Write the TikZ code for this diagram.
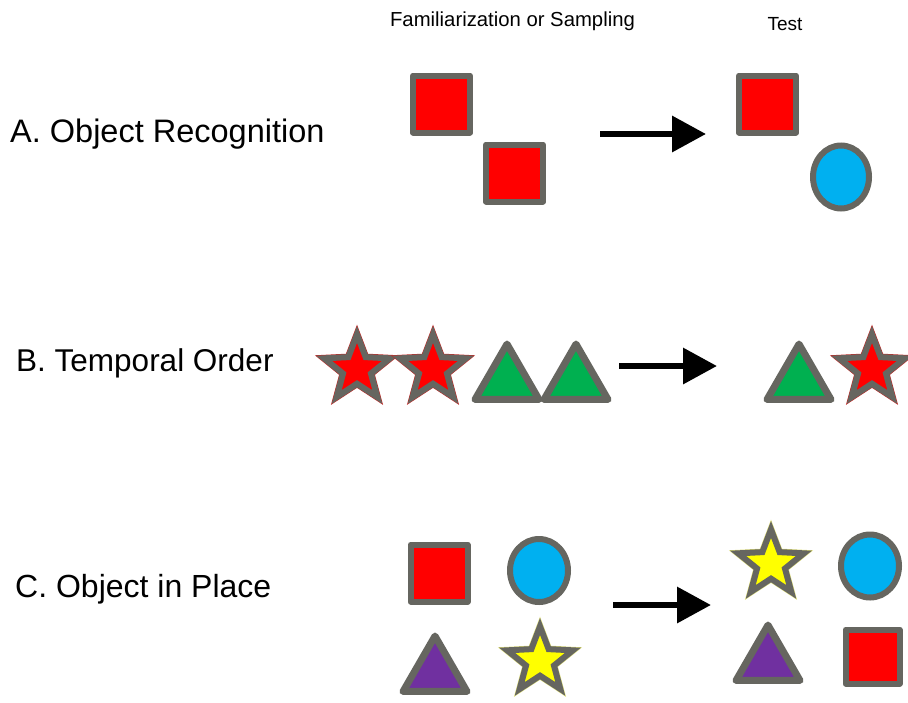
\documentclass[tikz,border=0pt]{standalone}
\usepackage{fontspec}
\setmainfont{Liberation Sans}
\usetikzlibrary{shapes.geometric,arrows.meta}
\definecolor{edgegray}{RGB}{102,102,96}
\definecolor{sqred}{RGB}{255,0,0}
\definecolor{cblue}{RGB}{0,176,240}
\definecolor{tgreen}{RGB}{0,176,80}
\definecolor{tpurple}{RGB}{112,48,160}
\definecolor{syellow}{RGB}{255,255,0}
\definecolor{paleyellow}{RGB}{220,220,120}
\tikzset{
  shp/.style={draw=edgegray, inner sep=0pt, outer sep=0pt},
  sqbox/.style={shp, rectangle, line width=6pt, line join=round, fill=sqred, minimum size=57pt},
  sqsmall/.style={sqbox, minimum size=54pt},
  circ/.style={shp, ellipse, line width=6pt, fill=cblue, minimum width=58pt, minimum height=63pt},
  tri/.style={shp, regular polygon, regular polygon sides=3, line width=7pt, line join=round, minimum size=73.9pt},
  startop/.style={shp, star, star points=5, star point ratio=2.35, line width=6pt, line join=miter, minimum size=69pt},
  redstar/.style={startop, fill=sqred, preaction={draw=sqred!60!edgegray, line width=7pt}},
  yelstar/.style={startop, fill=syellow, preaction={draw=paleyellow, line width=7pt}},
  arr/.style={line width=6.5pt, -{Triangle[length=34pt,width=35pt]}},
  rowlabel/.style={inner sep=0pt, anchor=base west, font=\fontsize{32.5}{38}\selectfont},
  headlabel/.style={inner sep=0pt, anchor=base, font=\fontsize{20.3}{24}\selectfont}
}
\begin{document}
\begin{tikzpicture}[x=1pt,y=-1pt]
\useasboundingbox (0,0) rectangle (908,702);
% headings
\node[headlabel] (hfam) at (512.5,26) {Familiarization or Sampling};
\node[headlabel, font=\fontsize{19}{24}\selectfont] (htest) at (785,30) {Test};
% row labels
\node[rowlabel] (la) at (10,142) {A. Object Recognition};
\node[rowlabel, font=\fontsize{31.5}{38}\selectfont] (lb) at (16,371) {B. Temporal Order};
\node[rowlabel, font=\fontsize{32}{38}\selectfont] (lc) at (15,597) {C. Object in Place};
% row A
\node[sqbox] (a1) at (441.5,104) {};
\node[sqbox] (a2) at (514.5,173) {};
\node[sqbox] (a3) at (767.5,104) {};
\node[circ, minimum width=56pt, minimum height=63pt] (a4) at (841,177) {};
\coordinate (aS) at (600,134);
\coordinate (aE) at (706,134);
\draw[arr] (aS) -- (aE);
% row B
\node[redstar] (b1) at (357,369) {};
\node[redstar] (b2) at (433,369) {};
\node[tri, fill=tgreen] (b3) at (507,381) {};
\node[tri, fill=tgreen] (b4) at (576,381) {};
\coordinate (bS) at (619,366);
\coordinate (bE) at (717,366);
\draw[arr] (bS) -- (bE);
\node[tri, fill=tgreen] (b5) at (799,381) {};
\node[redstar] (b6) at (872,369) {};
% row C
\node[sqbox] (c1) at (439,573) {};
\node[circ] (c2) at (539,570.5) {};
\node[tri, fill=tpurple] (c3) at (435,673) {};
\node[yelstar] (c4) at (540,661) {};
\coordinate (cS) at (613,605);
\coordinate (cE) at (711,605);
\draw[arr] (cS) -- (cE);
\node[yelstar] (c5) at (771,564) {};
\node[circ] (c6) at (870,566) {};
\node[tri, fill=tpurple] (c7) at (768,662) {};
\node[sqsmall] (c8) at (872.5,656.5) {};
\end{tikzpicture}
\end{document}
